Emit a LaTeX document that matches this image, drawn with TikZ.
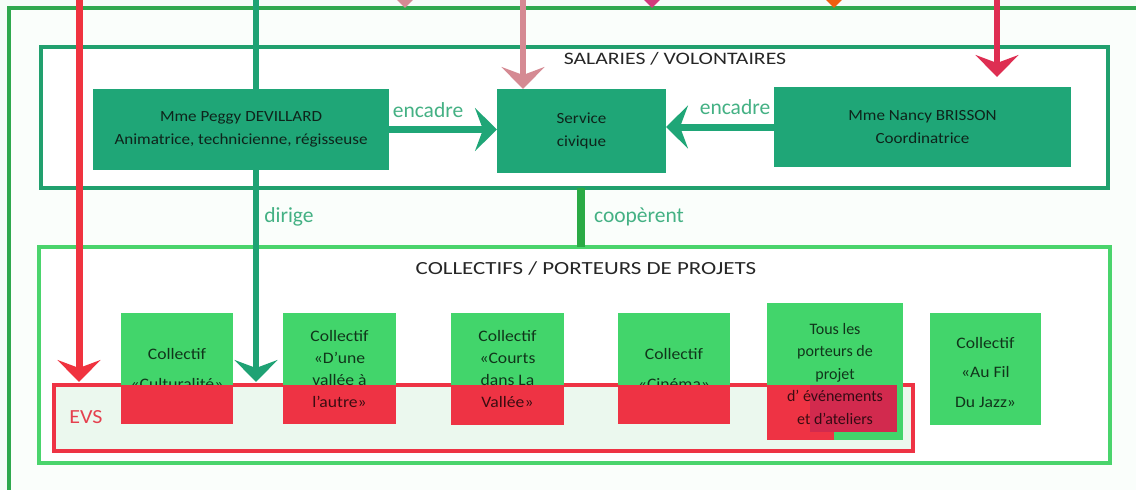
\documentclass[tikz,border=0pt]{standalone}
\usepackage{fontspec}
\setmainfont{Carlito}[FakeStretch=1.1]
\newfontfamily\titlefont{Carlito}[FakeStretch=1.24]
\newfontfamily\labfont{Carlito}
\usetikzlibrary{arrows.meta}
\definecolor{bg}{HTML}{F6FCF8}
\definecolor{innerbg}{HTML}{FAFEFB}
\definecolor{outerg}{HTML}{2FA84E}
\definecolor{salg}{HTML}{21A06E}
\definecolor{colg}{HTML}{4AD46C}
\definecolor{evsred}{HTML}{EE3344}
\definecolor{evsfill}{HTML}{EBF8EE}
\definecolor{tealbox}{HTML}{1FA677}
\definecolor{collg}{HTML}{42D56B}
\definecolor{crimson}{HTML}{D22A4E}
\definecolor{redA}{HTML}{F0333F}
\definecolor{tealline}{HTML}{1FA274}
\definecolor{pinkA}{HTML}{D58A93}
\definecolor{crimA}{HTML}{DE2E52}
\definecolor{magA}{HTML}{D23A7C}
\definecolor{orangeA}{HTML}{EF5F10}
\definecolor{coopg}{HTML}{2AAA45}
\definecolor{labelc}{HTML}{44B184}
\definecolor{evstext}{HTML}{E5404E}
\definecolor{titlec}{HTML}{262626}
\definecolor{tealtext}{HTML}{0E241B}
\tikzset{
  box/.style={inner sep=0pt, outer sep=0pt, anchor=north west},
  container/.style={box, draw, line width=4pt, fill=white},
  tbox/.style={box, fill=tealbox, align=center, text=tealtext, font=\fontsize{15.5}{22.5}\selectfont},
  gbox/.style={box, fill=collg},
  ctext/.style={inner sep=0pt, align=center, text=black, text opacity=0.75},
  ctwide/.style={ctext, font=\fontsize{16}{30}\selectfont},
  ctnarrow/.style={ctext, font=\fontsize{16}{22}\selectfont},
  title/.style={inner sep=0pt, text=titlec},
  lab/.style={inner sep=0pt, text=labelc, font=\labfont\fontsize{21.5}{24}\selectfont},
  bigtip/.tip={Stealth[length=22pt, width=43pt, inset=8pt]},
  arr/.style={-bigtip, line width=6pt},
}
\begin{document}
\begin{tikzpicture}[x=1pt, y=-1pt]
\useasboundingbox (0,0) rectangle (1136,490);
\clip (0,0) rectangle (1136,490);
\fill[bg] (0,0) rectangle (1136,490);

% containers
\node[container, draw=outerg, fill=innerbg, line width=3.5pt, minimum width=1200pt, minimum height=600pt] (outer) at (9,8) {};
\node[container, draw=salg, line width=4.5pt, minimum width=1067pt, minimum height=141pt] (sal) at (41,47) {};
\node[container, draw=colg, minimum width=1071pt, minimum height=216pt] (col) at (39,247) {};
\node[container, draw=evsred, fill=evsfill, line width=3.5pt, minimum width=859pt, minimum height=66pt] (evs) at (54,385) {};

\node[title, font=\titlefont\fontsize{17.5}{20}\selectfont] (saltitle) at (675,59) {SALARIES / VOLONTAIRES};
\node[title, font=\titlefont\fontsize{18.5}{20}\selectfont] (coltitle) at (586,268) {COLLECTIFS / PORTEURS DE PROJETS};
\node[inner sep=0pt, text=evstext, font=\fontsize{20}{22}\selectfont] (evslabel) at (86,417) {EVS};

% teal boxes not crossed by lines
\node[tbox, minimum width=169pt, minimum height=84pt] (serv) at (497,89) {Service\\civique};
\node[tbox, minimum width=297pt, minimum height=80pt] (nancy) at (774,87) {Mme Nancy BRISSON\\Coordinatrice};

% long arrows from above
\coordinate (redtop) at (79,-10);
\coordinate (greentop) at (256,-10);
\coordinate (pinktop) at (523,-10);
\coordinate (crimtop) at (997,-10);
\coordinate (tipA) at (405,-40);
\coordinate (tipB) at (652,-40);
\coordinate (tipC) at (834,-40);
\draw[arr, draw=redA, line width=7pt] (redtop) -- ([yshift=3pt]redtop |- evs.north);
\draw[arr, draw=tealline] (greentop) -- ([yshift=3pt]greentop |- evs.north);
\draw[arr, draw=pinkA] (pinktop) -- (pinktop |- serv.north);
\draw[arr, draw=crimA] (crimtop) -- ([yshift=10pt]crimtop |- nancy.north);
\draw[arr, draw=pinkA] (tipA) -- (tipA |- outer.north);
\draw[arr, draw=magA] (tipB) -- (tipB |- outer.north);
\draw[arr, draw=orangeA] (tipC) -- (tipC |- outer.north);

\node[tbox, minimum width=296pt, minimum height=81pt] (peggy) at (93,89) {Mme Peggy DEVILLARD\\Animatrice, technicienne, régisseuse};

% encadre arrows
\draw[arr, draw=tealbox, line width=7pt] (peggy.east) -- (peggy.east -| serv.west);
\draw[arr, draw=tealbox, line width=7pt] (nancy.west) -- (nancy.west -| serv.east);
\node[lab] (enc1) at (428,110) {encadre};
\node[lab] (enc2) at (735,107) {encadre};

% coopèrent
\coordinate (coopx) at (581,0);
\draw[draw=coopg, line width=8pt] (sal.south -| coopx) -- (col.north -| coopx);
\node[lab] (dir) at (289,217) {dirige};
\node[lab] (coop) at (639,217) {coopèrent};

% collectif boxes
\node[gbox, minimum width=112pt, minimum height=111pt] (c1) at (121,313) {};
\node[ctwide] (c1t) at (c1.center) {Collectif\\«Culturalité»};
\fill[evsred] (c1.west |- evs.north) rectangle (c1.south east);

\node[gbox, minimum width=113pt, minimum height=111pt] (c2) at (283,313) {};
\fill[evsred] (c2.west |- evs.north) rectangle (c2.south east);
\node[ctnarrow] (c2t) at (c2.center) {Collectif\\«D’une\\vallée à\\l’autre»};

\node[gbox, minimum width=113pt, minimum height=112pt] (c3) at (451,313) {};
\fill[evsred] (c3.west |- evs.north) rectangle (c3.south east);
\node[ctnarrow] (c3t) at (c3.center) {Collectif\\«Courts\\dans La\\Vallée»};

\node[gbox, minimum width=112pt, minimum height=111pt] (c4) at (618,313) {};
\node[ctwide] (c4t) at (c4.center) {Collectif\\«Cinéma»};
\fill[evsred] (c4.west |- evs.north) rectangle (c4.south east);

\node[gbox, minimum width=136pt, minimum height=137pt] (c5) at (767,303) {};
\fill[evsred] (c5.west |- evs.north) rectangle (834,440);
\fill[crimson] (810,385) rectangle (897,432);
\node[ctext, font=\labfont\fontsize{16}{22.5}\selectfont] (c5t) at ([yshift=-2pt]c5.center) {Tous les\\porteurs de\\projet\\d’ événements\\et d’ateliers};

\node[gbox, minimum width=111pt, minimum height=112pt] (c6) at (930,313) {};
\node[ctext, font=\fontsize{16}{29.5}\selectfont] (c6t) at ([yshift=-3pt]c6.center) {Collectif\\«Au Fil\\Du Jazz»};
\end{tikzpicture}
\end{document}
